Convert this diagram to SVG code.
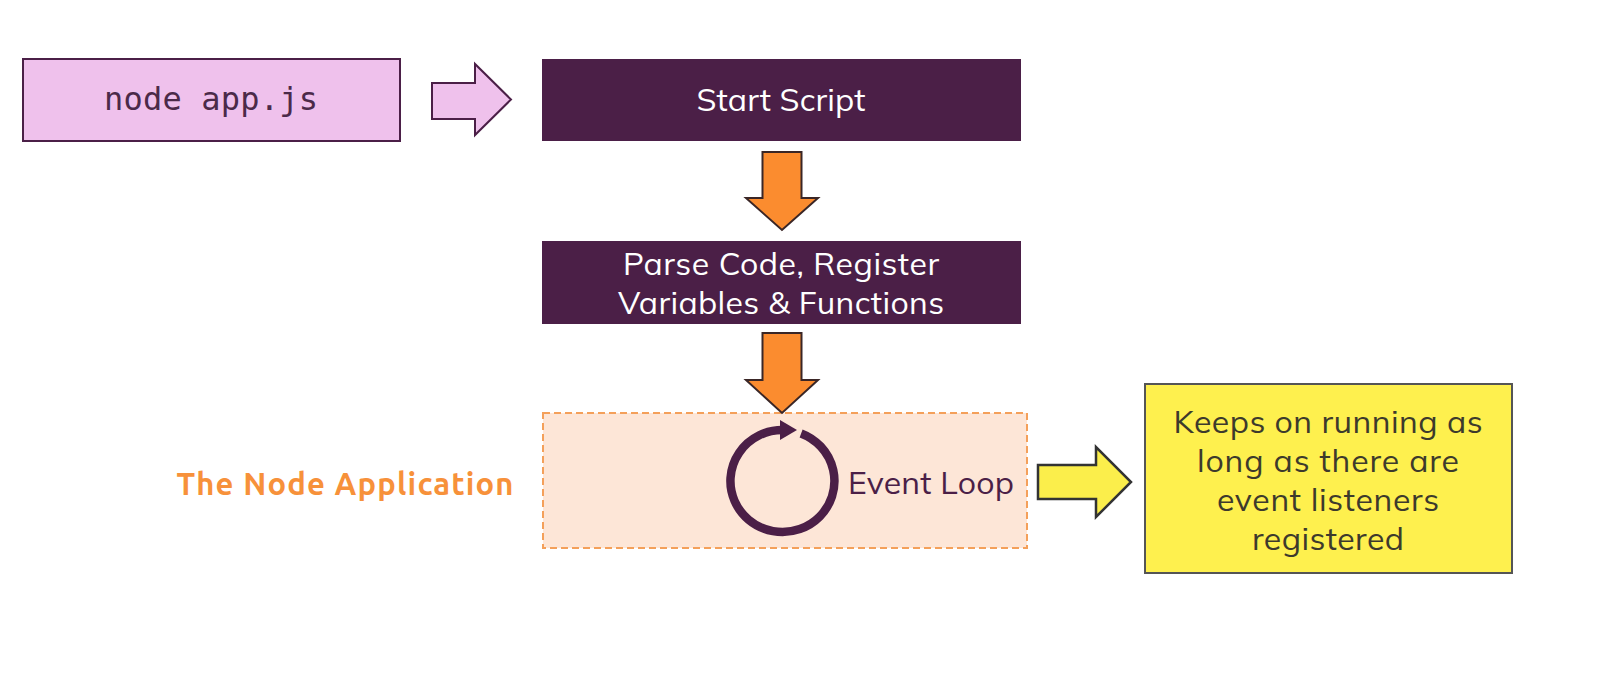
<svg xmlns="http://www.w3.org/2000/svg" width="1609" height="678" viewBox="0 0 1609 678">
  <style>
    .t { font-family: "Mulish", "Lato", "Noto Sans", sans-serif; font-size: 32px; text-anchor: middle; }
    .w { fill: #ffffff; }
    .dk { fill: #4b1f47; }
    .yl { fill: #3d3a2c; }
    .purple { fill: #4b1f47; }
    .mono { font-family: "DejaVu Sans Mono", "Liberation Mono", monospace; font-size: 32px; fill: #4b2a49; text-anchor: middle; }
    .orangeArrow { fill: #fb8c2f; stroke: #3a2626; stroke-width: 2; stroke-linejoin: miter; }
    .pinkArrow { fill: #efc1ec; stroke: #4b1f47; stroke-width: 2; }
    .yellowArrow { fill: #fbee4b; stroke: #333333; stroke-width: 2.5; }
  </style>
  <rect width="1609" height="678" fill="#ffffff"/>

  <g id="node-cmd">
    <rect x="23" y="59" width="377" height="82" fill="#efc1ec" stroke="#4b1f47" stroke-width="2"/>
    <text class="mono" x="211" y="110" textLength="214">node app.js</text>
  </g>

  <g id="start-script">
    <rect x="542" y="59" width="479" height="82" class="purple"/>
    <text class="t w" x="781" y="111" textLength="169">Start Script</text>
  </g>

  <g id="parse-code">
    <rect x="542" y="241" width="479" height="83" class="purple"/>
    <text class="t w" x="781" y="275" textLength="316">Parse Code, Register</text>
    <text class="t w" x="781" y="314" textLength="326">Variables &amp; Functions</text>
  </g>

  <g id="node-application">
    <rect x="543" y="413" width="484" height="135" fill="#fde6d7" stroke="#f4a05a" stroke-width="2" stroke-dasharray="7 4"/>
    <path d="M 801.1 433.4 A 52 51 0 1 1 782.5 430" fill="none" stroke="#4b1f47" stroke-width="8.5"/>
    <polygon points="780,420 797,430 780,440" fill="#4b1f47"/>
    <text class="t dk" x="931" y="494" textLength="166">Event Loop</text>
  </g>

  <g id="app-label">
    <text x="345" y="495" font-family="Ubuntu, 'Open Sans', 'Noto Sans', sans-serif" font-weight="bold" font-size="31" fill="#f7913a" text-anchor="middle" textLength="337">The Node Application</text>
  </g>

  <g id="keeps-running">
    <rect x="1145" y="384" width="367" height="189" fill="#fef04e" stroke="#555555" stroke-width="2"/>
    <text class="t yl" x="1328" y="433" textLength="309">Keeps on running as</text>
    <text class="t yl" x="1328" y="472" textLength="262">long as there are</text>
    <text class="t yl" x="1328" y="511" textLength="222">event listeners</text>
    <text class="t yl" x="1328" y="550" textLength="152">registered</text>
  </g>

  <g id="connectors">
    <polygon class="pinkArrow" points="432,83 475,83 475,64 511,99.5 475,135 475,119 432,119"/>
    <polygon class="orangeArrow" points="762.5,152 801.5,152 801.5,198 818,198 782,230 746,198 762.5,198"/>
    <polygon class="orangeArrow" points="762.5,333 801.5,333 801.5,380 818,380 782,413 746,380 762.5,380"/>
    <polygon class="yellowArrow" points="1038,465 1096,465 1096,447 1131,482 1096,517 1096,499 1038,499"/>
  </g>
</svg>
